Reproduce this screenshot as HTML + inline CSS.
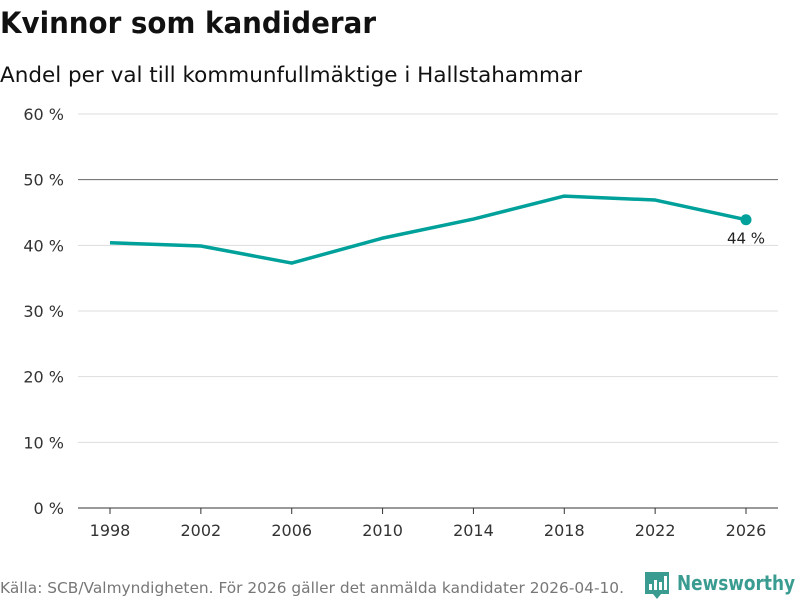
<!DOCTYPE html>
<html><head><meta charset="utf-8"><style>
body{margin:0;background:#fff;width:800px;height:600px;overflow:hidden;font-family:"DejaVu Sans",sans-serif}
</style></head><body>
<svg id="chart" width="800" height="600" font-family="DejaVu Sans, sans-serif">
<text x="0" y="33" font-size="29" font-weight="bold" fill="#111" textLength="376" lengthAdjust="spacingAndGlyphs">Kvinnor som kandiderar</text>
<text x="0" y="82" font-size="21" fill="#111" textLength="582" lengthAdjust="spacingAndGlyphs">Andel per val till kommunfullmäktige i Hallstahammar</text>
<g id="grid"></g><g id="xaxis"></g><g id="series"></g>
<text x="0" y="593" font-size="15" fill="#777" textLength="624" lengthAdjust="spacingAndGlyphs">Källa: SCB/Valmyndigheten. För 2026 gäller det anmälda kandidater 2026-04-10.</text>
<g>
<path d="M645 572h24v22h-8l-4 5-4-5h-8z" fill="#3a9c91"/>
<rect x="649" y="584" width="3" height="6" fill="#fff"/><rect x="654" y="580" width="3" height="10" fill="#fff"/><rect x="659" y="582" width="3" height="8" fill="#fff"/><rect x="664" y="576" width="3" height="14" fill="#fff"/>
<text x="677" y="590" font-size="20" font-weight="bold" fill="#3a9c91" textLength="118" lengthAdjust="spacingAndGlyphs">Newsworthy</text>
</g>
</svg>
<script>
const years=[1998,2002,2006,2010,2014,2018,2022,2026];
const values=[40.4,39.9,37.3,41.1,44.0,47.5,46.9,43.9];
const yTicks=[0,10,20,30,40,50,60];
const ns="http://www.w3.org/2000/svg";
const X=v=>110+(v-1998)*(746-110)/28;
const Y=v=>508-v*(508-114)/60;
function mk(t,a,p){const e=document.createElementNS(ns,t);for(const k in a)e.setAttribute(k,a[k]);p.appendChild(e);return e;}
const grid=document.getElementById('grid');
yTicks.forEach(t=>{
  const l=mk('line',{x1:78,x2:778,y1:Y(t),y2:Y(t),stroke:t===50?'#666':(t===0?'#333':'#ddd'),'stroke-width':1},grid);
  
  
  const tx=mk('text',{x:64,y:Y(t)+6,'font-size':16,fill:'#333','text-anchor':'end'},grid);
  tx.textContent=t+' %';
  
  
});
const xa=document.getElementById('xaxis');
years.forEach(y=>{
  const l=mk('line',{x1:X(y),x2:X(y),y1:508,y2:514,stroke:'#333'},xa);
  
  
  const t=mk('text',{x:X(y),y:536,'font-size':16,fill:'#333','text-anchor':'middle'},xa);
  t.textContent=y;
  
  
});
const s=document.getElementById('series');
const p=mk('polyline',{points:years.map((y,i)=>X(y)+','+Y(values[i])).join(' '),fill:'none',stroke:'#00a19a','stroke-width':3.5,'stroke-linejoin':'round'},s);


const n=years.length-1;
const c=mk('circle',{cx:X(years[n]),cy:Y(values[n]),r:5.5,fill:'#00a19a'},s);


const lb=mk('text',{x:X(years[n]),y:Y(values[n])+24,'font-size':15,fill:'#222','text-anchor':'middle'},s);
lb.textContent=Math.round(values[n])+' %';


</script>
</body></html>
